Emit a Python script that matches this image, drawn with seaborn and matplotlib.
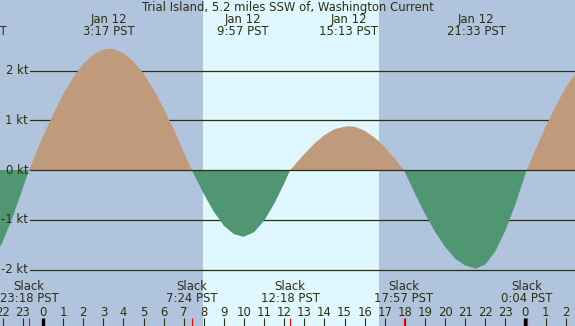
import numpy as np
import pandas as pd
import matplotlib
matplotlib.use("Agg")
import matplotlib.pyplot as plt
import matplotlib.transforms as mtransforms
import seaborn as sns

# ── data (hours from Jan 12 00:00 PST, knots) ────────────────────────────────
sample_hours = [-2.5, -2.0, -1.5, -1.0, -0.5, 0.0, 0.5, 1.0, 1.5, 2.0, 2.5, 3.0,
                3.5, 4.0, 4.5, 5.0, 5.5, 6.0, 6.5, 7.0, 7.5, 8.0, 8.5, 9.0,
                9.5, 10.0, 10.5, 11.0, 11.5, 12.0, 12.5, 13.0, 13.5, 14.0, 14.5,
                15.0, 15.5, 16.0, 16.5, 17.0, 17.5, 18.0, 18.5, 19.0, 19.5, 20.0,
                20.5, 21.0, 21.5, 22.0, 22.5, 23.0, 23.5, 24.0, 24.5, 25.0, 25.5,
                26.0, 26.5, 27.0]
sample_knots = [-1.82, -1.44, -0.94, -0.36, 0.19, 0.67, 1.11, 1.52, 1.86, 2.13, 2.32, 2.42,
                2.43, 2.35, 2.18, 1.94, 1.62, 1.24, 0.82, 0.37, -0.08, -0.48, -0.84, -1.12,
                -1.29, -1.34, -1.25, -1.02, -0.68, -0.27, 0.09, 0.32, 0.53, 0.70, 0.82,
                0.87, 0.87, 0.79, 0.65, 0.46, 0.23, -0.04, -0.47, -0.88, -1.24, -1.54,
                -1.78, -1.92, -1.98, -1.90, -1.64, -1.22, -0.69, -0.08, 0.41, 0.86, 1.28,
                1.65, 1.94, 2.17]

# max flood / max ebb events
peak_clock = ["20:43", "3:17", "9:57", "15:13", "21:33"]
peak_day = [-1, 0, 0, 0, 0]
peak_date = ["Jan 11", "Jan 12", "Jan 12", "Jan 12", "Jan 12"]
peak_knots = [-2.1, 2.44, -1.34, 0.88, -1.98]

# slack events
slack_clock = ["23:18", "7:24", "12:18", "17:57", "0:04"]
slack_day = [-1, 0, 0, 0, 1]

sunrise_clock, sunset_clock = "7:59", "16:43"
hour_ticks = list(range(-2, 27))
kt_levels = [2, 1, 0, -1, -2]

title = "Trial Island, 5.2 miles SSW of, Washington Current"

# ── helpers ──────────────────────────────────────────────────────────────────
def clock_to_hours(clock, day=0):
    h, m = clock.split(":")
    return int(h) + int(m) / 60 + 24 * day

peak_hours = [clock_to_hours(c, d) for c, d in zip(peak_clock, peak_day)]
slack_hours = [clock_to_hours(c, d) for c, d in zip(slack_clock, slack_day)]

curve = pd.DataFrame({
    "hour": sample_hours + peak_hours + slack_hours,
    "knots": sample_knots + peak_knots + [0.0] * len(slack_hours),
}).sort_values("hour").reset_index(drop=True)

# ── style ────────────────────────────────────────────────────────────────────
sns.set_theme(style="white")
plt.rcParams["font.family"] = ["DejaVu Sans"]

night = "#b0c4de"
day = "#dff7ff"
flood = "#bf9b7b"
ebb = "#509673"
ink = "#2e2e10"
fs = 8.4

W, H = 575, 326
px_per_hour = 20.1
px_per_kt = 49.75
zero_px_x, zero_px_y = 43, 170

fig = plt.figure(figsize=(W / 100, H / 100), dpi=100)
fig.patch.set_facecolor(night)
ax = fig.add_axes([0, 0, 1, 1])
ax.set_xlim(-zero_px_x / px_per_hour, (W - zero_px_x) / px_per_hour)
ax.set_ylim(-(H - zero_px_y) / px_per_kt, zero_px_y / px_per_kt)
ax.axis("off")

# daylight band
ax.axvspan(clock_to_hours(sunrise_clock), clock_to_hours(sunset_clock),
           color=day, lw=0, zorder=0)

# grid lines (under the fill) with labels
for lv in kt_levels:
    ax.axhline(lv, xmin=30 / W, xmax=1, color=ink, lw=0.9,
               zorder=4 if lv == 0 else 1)
    ax.text(28 / W, lv, f"{lv} kt", transform=ax.get_yaxis_transform(),
            ha="right", va="center", fontsize=fs, color=ink, zorder=5)

# current curve
x = curve["hour"].to_numpy()
y = curve["knots"].to_numpy()
ax.fill_between(x, 0, y, where=y >= 0, interpolate=True, color=flood, lw=0, zorder=2)
ax.fill_between(x, 0, y, where=y <= 0, interpolate=True, color=ebb, lw=0, zorder=2)
sns.lineplot(x=x[y >= 0], y=np.zeros((y >= 0).sum()), ax=ax, lw=0, legend=False)

trans = mtransforms.blended_transform_factory(ax.transData, ax.transAxes)

def fy(px):
    return 1 - px / H

# title and event labels
ax.text(0.5, fy(7.5), title, transform=ax.transAxes, ha="center", va="center",
        fontsize=fs, color=ink, zorder=6)
for h, c, d in zip(peak_hours, peak_clock, peak_date):
    ax.text(h, fy(19.5), d, transform=trans, ha="center", va="center",
            fontsize=fs, color=ink, zorder=6)
    ax.text(h, fy(31.5), f"{c} PST", transform=trans, ha="center", va="center",
            fontsize=fs, color=ink, zorder=6)

for h, c in zip(slack_hours, slack_clock):
    ax.text(h, fy(287), "Slack", transform=trans, ha="center", va="center",
            fontsize=fs, color=ink, zorder=6)
    ax.text(h, fy(299), f"{c} PST", transform=trans, ha="center", va="center",
            fontsize=fs, color=ink, zorder=6)

# hour ticks along the bottom
for h in hour_ticks:
    midnight = h % 24 == 0
    ax.plot([h, h], [0, 8 / H], transform=trans, color="black" if midnight else ink,
            lw=2.4 if midnight else 0.8, solid_capstyle="butt", zorder=6)
    ax.text(h, fy(312), str(h % 24), transform=trans, ha="center", va="center",
            fontsize=fs, color=ink, zorder=6)
for h in slack_hours:
    ax.plot([h, h], [0, 8 / H], transform=trans, color="red", lw=0.8,
            solid_capstyle="butt", zorder=7)

fig.savefig("out.png", dpi=100, facecolor=fig.get_facecolor())
plt.close(fig)
